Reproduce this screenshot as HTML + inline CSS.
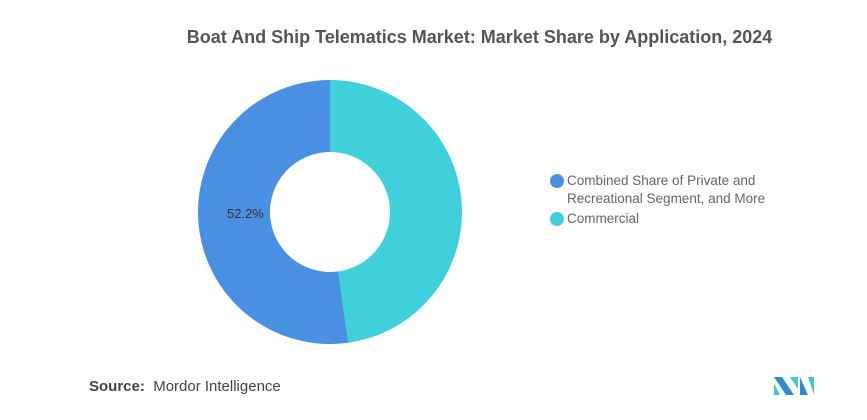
<!DOCTYPE html>
<html><head><meta charset="utf-8"><style>
body{margin:0;width:867px;height:420px;background:#fff;font-family:"Liberation Sans",sans-serif;overflow:hidden;position:relative}
.t{position:absolute;left:0;width:867px;top:27px;text-align:center;font-size:18px;font-weight:bold;color:#555;padding-left:92px;box-sizing:border-box}
.leg{position:absolute;left:551px;font-size:13.5px;color:#666;line-height:18px}
.dot{position:absolute;left:-1px;width:14px;height:14px;border-radius:50%}
.src{position:absolute;left:89px;top:378px;font-size:15px;color:#444}
</style></head><body>
<div class="t">Boat And Ship Telematics Market: Market Share by Application, 2024</div>
<svg id="c" width="867" height="420" style="position:absolute;left:0;top:0"></svg>
<div>
<div class="leg" style="top:172px"><span class="dot" style="background:#4a90e2;top:2px"></span><span style="padding-left:16px;display:block">Combined Share of Private and<br>Recreational Segment, and More</span></div>
<div class="leg" style="top:210px"><span class="dot" style="background:#40d0dc;top:2px"></span><span style="padding-left:16px;display:block">Commercial</span></div>
</div>
<div class="src"><b>Source:</b>&nbsp; Mordor Intelligence</div>
<svg width="44" height="18" style="position:absolute;left:774px;top:377px">
<polygon points="0,0 8,0 20,18 12,18" fill="#2e8ccf"/><polygon points="0,6 6,18 0,18" fill="#40c8d4"/>
<polygon points="16,0 24,0 24,12" fill="#40c8d4"/><polygon points="26,0 34,18 26,18" fill="#2e8ccf"/><polygon points="34,0 40,0 40,18" fill="#40c8d4"/>
</svg>
<script>
const categories=["Commercial","Combined Share of Private and Recreational Segment, and More"];
const values=[47.8,52.2];
const colors=["#40d0dc","#4a90e2"];
const svg=document.getElementById('c');
const cx=330,cy=212,R=132,r=60;
const total=values.reduce((a,b)=>a+b,0);
let a0=-Math.PI/2;
values.forEach((v,i)=>{
 const a1=a0+v/total*2*Math.PI;const lg=(a1-a0)>Math.PI?1:0;
 const p=(rad,a)=>[cx+rad*Math.cos(a),cy+rad*Math.sin(a)];
 const [x0,y0]=p(R,a0),[x1,y1]=p(R,a1),[x2,y2]=p(r,a1),[x3,y3]=p(r,a0);
 const path=document.createElementNS('http://www.w3.org/2000/svg','path');
 path.setAttribute('d',`M${x0},${y0}A${R},${R} 0 ${lg} 1 ${x1},${y1}L${x2},${y2}A${r},${r} 0 ${lg} 0 ${x3},${y3}Z`);
 path.setAttribute('fill',colors[i]);
 
 
 svg.appendChild(path);
 if(i===1){
  const t=document.createElementNS('http://www.w3.org/2000/svg','text');
  t.setAttribute('x',cx-103);t.setAttribute('y',cy+6);
  t.setAttribute('font-size','13');t.setAttribute('fill','#333');
  t.setAttribute('font-family','Liberation Sans, sans-serif');
  t.textContent=values[i]+'%';
  
  
  svg.appendChild(t);
 }
 a0=a1;
});
</script>
</body></html>
